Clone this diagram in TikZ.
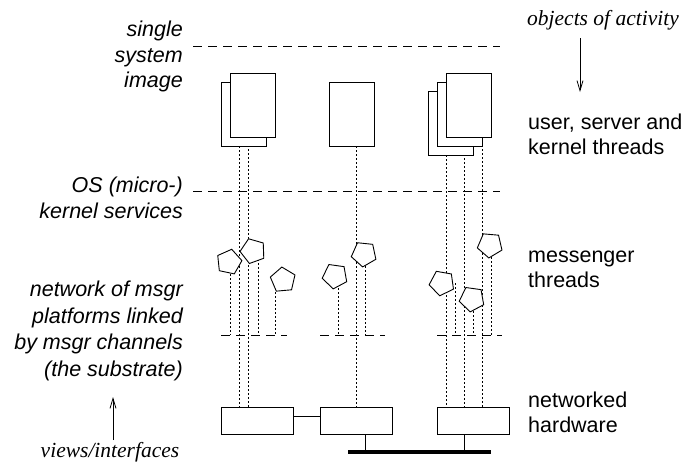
\documentclass[tikz,border=0pt]{standalone}
\usepackage{fontspec}
\setmainfont{Liberation Sans}
\newfontfamily\notefont{Liberation Serif}
\usetikzlibrary{shapes.geometric, arrows.meta, backgrounds}
\tikzstyle{thread} = [rectangle, draw, fill=white, line width=0.9pt, minimum width=45pt, minimum height=64pt, inner sep=0pt]
\tikzstyle{msgr} = [regular polygon, regular polygon sides=5, draw, fill=white, line width=0.9pt, minimum size=26pt, inner sep=0pt]
\tikzstyle{hw} = [rectangle, draw, fill=white, line width=0.9pt, minimum width=72pt, minimum height=27pt, inner sep=0pt]
\tikzstyle{level} = [line width=0.8pt, dash pattern=on 9pt off 6pt]
\tikzstyle{link} = [line width=0.8pt, dash pattern=on 1.5pt off 2.5pt]
\tikzstyle{arrow} = [line width=0.8pt, -{Straight Barb[length=10pt,width=6pt]}]

\begin{document}
\begin{tikzpicture}[x=1pt, y=-1pt,
    layer/.style={font=\fontsize{21.5}{25.5}\selectfont\itshape, align=right, anchor=east, inner sep=0pt},
    kind/.style={font=\fontsize{21.5}{25}\selectfont, align=left, anchor=west, inner sep=0pt},
    view/.style={font=\notefont\itshape\fontsize{21.5}{25}\selectfont, inner sep=0pt}]
    \useasboundingbox (0,0) rectangle (697,463);

    % layer boundaries
    \draw[level] (193,46) -- (500,46);
    \draw[level] (193,191) -- (500,191);
    \draw[level] (221,335) -- (287,335);
    \draw[level] (320,335) -- (385,335);
    \draw[level] (437,335) -- (502,335);
    \coordinate (base) at (0,335);

    % threads (stacked)
    \node[thread] (tA2) at (243.5,114) {};
    \node[thread] (tA1) at (252.5,105) {};
    \node[thread] (tB) at (351.5,114) {};
    \node[thread] (tC3) at (450.5,123) {};
    \node[thread] (tC2) at (459.5,114) {};
    \node[thread] (tC1) at (468.5,105) {};

    % messengers
    \node[msgr, rotate=-12] (m1) at (229,262) {};
    \node[msgr, rotate=164] (m2) at (253,251) {};
    \node[msgr, rotate=5] (m3) at (283,280) {};
    \node[msgr, rotate=172] (m4) at (335,276) {};
    \node[msgr, rotate=174] (m5) at (364,254) {};
    \node[msgr, rotate=170] (m6) at (442,283) {};
    \node[msgr, rotate=172] (m7) at (472,299) {};
    \node[msgr, rotate=175] (m8) at (490,245) {};

    % hardware and bus
    \node[hw] (hwA) at (257,420.5) {};
    \node[hw] (hwB) at (356,420.5) {};
    \node[hw] (hwC) at (473,420.5) {};
    \node[fill, minimum width=143pt, minimum height=3.5pt, inner sep=0pt] (bus) at (419.5,452) {};
    \draw[line width=0.9pt] ([yshift=4.5pt]hwA.east) -- ([yshift=4.5pt]hwB.west);
    \draw[line width=0.9pt] ([xshift=9pt]hwB.south) -- ([xshift=9pt]hwB.south |- bus.north);
    \draw[line width=0.9pt] ([xshift=-9pt]hwC.south) -- ([xshift=-9pt]hwC.south |- bus.north);

    \begin{scope}[on background layer]
    \foreach \n/\s/\h in {tA2/-4.5/hwA, tA1/-4.5/hwA, tB/4.5/hwB, tC3/-4.5/hwC, tC2/4.5/hwC, tC1/13.5/hwC}
        \draw[link] ([xshift=\s pt]\n.south) -- ([xshift=\s pt]\n.south |- \h.north);
    \foreach \n/\s in {m1/1, m2/5, m3/-8, m4/3, m5/1, m6/13, m7/1, m8/1}
        \draw[link] ([xshift=\s pt]\n.center) -- ([xshift=\s pt]\n.center |- base);
    \end{scope}

    % left: views
    \node[layer] (ssi) at (183,56.5) {single\\system\\image};
    \node[layer] (os) at (183,198) {OS (micro-)\\kernel services};
    \node[layer, font=\fontsize{21.5}{26.5}\selectfont\itshape] (net) at (183,331) {network of msgr\\platforms linked\\by msgr channels\\(the substrate)};
    \node[view] (views) at (110,452) {views/interfaces};
    \coordinate (vtail) at (113,440);
    \coordinate (vtip) at (113,397);
    \draw[arrow] (vtail) -- (vtip);

    % right: objects
    \node[view, anchor=west] (obj) at (527,20) {objects of activity};
    \coordinate (otail) at (580,38);
    \coordinate (otip) at (580,92);
    \draw[arrow] (otail) -- (otip);
    \node[kind] (ust) at (528,134.5) {user, server and\\kernel threads};
    \node[kind] (mt) at (528,269.5) {messenger\\threads};
    \node[kind] (nh) at (528,412) {networked\\hardware};
\end{tikzpicture}
\end{document}
